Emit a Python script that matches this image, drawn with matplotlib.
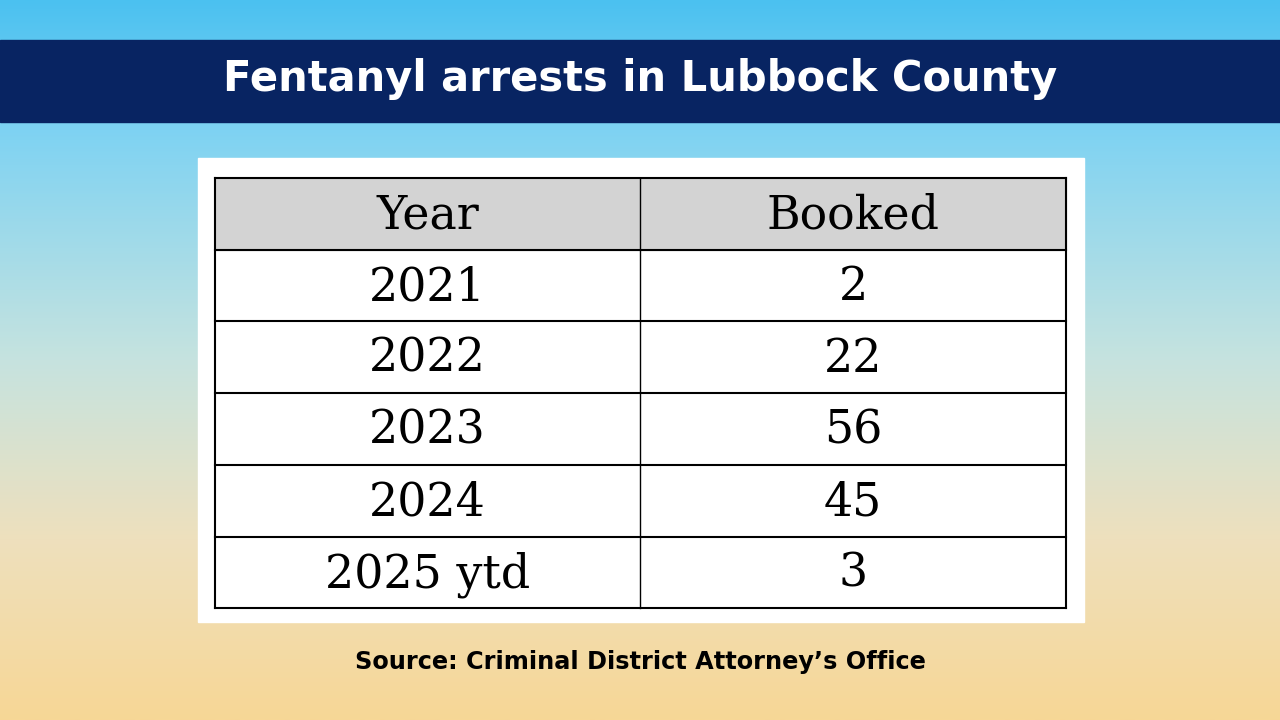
import matplotlib.pyplot as plt
import numpy as np
from matplotlib.colors import LinearSegmentedColormap
from matplotlib.patches import Rectangle

title = "Fentanyl arrests in Lubbock County"
source = "Source: Criminal District Attorney\u2019s Office"
headers = ["Year", "Booked"]
years = ["2021", "2022", "2023", "2024", "2025 ytd"]
booked = [2, 22, 56, 45, 3]

W, H = 1280, 720

fig = plt.figure(figsize=(12.8, 7.2), dpi=100)
ax = fig.add_axes([0, 0, 1, 1])
ax.set_xlim(0, W)
ax.set_ylim(H, 0)
ax.axis("off")

# background gradient, sky blue to sand
grad = LinearSegmentedColormap.from_list(
    "bg",
    [(0.0, "#4bc1f0"), (0.17, "#7cd2f3"), (0.5, "#c6e3df"),
     (0.75, "#eee0bd"), (1.0, "#f7d796")],
)
ax.imshow(np.linspace(0, 1, 256).reshape(-1, 1), cmap=grad, aspect="auto",
          extent=(0, W, H, 0), zorder=0)

# title band
ax.add_patch(Rectangle((0, 40), W, 82, color="#082462", zorder=1))
ax.text(W / 2, 79, title, color="white", fontsize=30, fontweight="bold",
        family="DejaVu Sans", ha="center", va="center", zorder=2)

# white panel behind the table
ax.add_patch(Rectangle((198, 158), 886, 464, color="white", zorder=1))

# table
x0, x1, xmid = 215, 1066, 640
y0, row_h = 178, 71.7
rows = [headers] + [[y, str(b)] for y, b in zip(years, booked)]
for i, row in enumerate(rows):
    top = y0 + i * row_h
    if i == 0:
        ax.add_patch(Rectangle((x0, top), x1 - x0, row_h, color="#d3d3d3", zorder=2))
    cy = top + row_h / 2 + 2
    for j, val in enumerate(row):
        cx = (x0 + xmid) / 2 if j == 0 else (xmid + x1) / 2
        ax.text(cx, cy, val, fontsize=33, family="DejaVu Serif",
                ha="center", va="center", color="black", zorder=4)

n = len(rows)
for i in range(n + 1):
    y = y0 + i * row_h
    ax.plot([x0, x1], [y, y], color="black", lw=1.5, zorder=3)
for x in (x0, xmid, x1):
    ax.plot([x, x], [y0, y0 + n * row_h], color="black", lw=1.5 if x != xmid else 1.0, zorder=3)

ax.text(W / 2, 662, source, fontsize=17.3, fontweight="bold", family="DejaVu Sans",
        ha="center", va="center", color="black", zorder=2)

fig.savefig("out.png", dpi=100)
